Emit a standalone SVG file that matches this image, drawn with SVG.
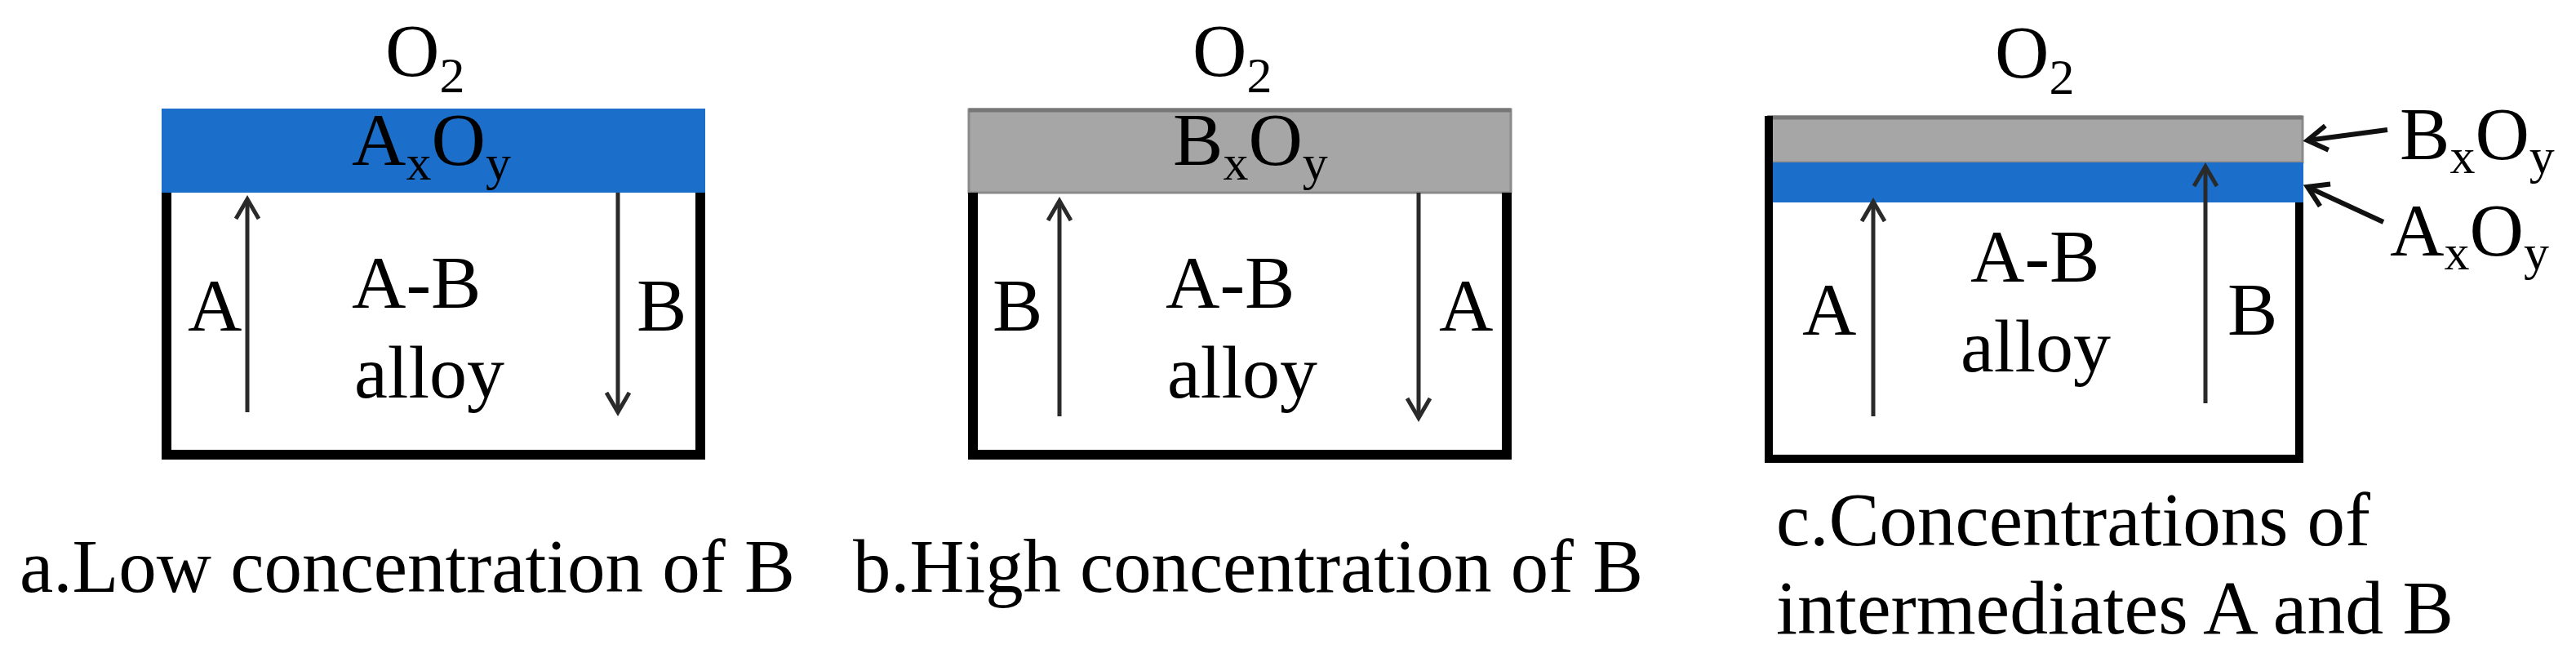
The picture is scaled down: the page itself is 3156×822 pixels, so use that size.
<svg xmlns="http://www.w3.org/2000/svg" width="3156" height="822" viewBox="0 0 3156 822" font-family="'Liberation Serif', 'Times New Roman', Tinos, 'DejaVu Serif', serif">
  <style>
    text { font-family: "Liberation Serif", "Times New Roman", Tinos, "DejaVu Serif", serif; font-size: 92px; fill: #000; }
    .sub { font-size: 62px; }
    .cap { font-size: 93px; }
    .box { fill: none; stroke: #000; stroke-width: 12; stroke-linejoin: miter; }
    .blue { fill: #1B6FCA; }
    .gray { fill: #A6A6A6; stroke: #8A8A8A; stroke-width: 3; }
    .edge { stroke: #777; stroke-width: 5; }
    .arr { fill: none; stroke: #2A2A2A; stroke-width: 5; marker-end: url(#chev); }
    .ptr { fill: none; stroke: #111; stroke-width: 6; marker-end: url(#chev2); }
  </style>
  <defs>
    <marker id="chev" markerUnits="userSpaceOnUse" viewBox="-30 -20 40 40" markerWidth="40" markerHeight="40" refX="0" refY="0" orient="auto">
      <path d="M-24,-14 L0,0 L-24,14" fill="none" stroke="#2A2A2A" stroke-width="5"/>
    </marker>
    <marker id="chev2" markerUnits="userSpaceOnUse" viewBox="-30 -20 40 40" markerWidth="40" markerHeight="40" refX="0" refY="0" orient="auto">
      <path d="M-24,-15 L0,0 L-24,15" fill="none" stroke="#111" stroke-width="6"/>
    </marker>
  </defs>
  <rect width="3156" height="822" fill="#fff"/>

  <!-- Panel a -->
  <g id="panel-a">
    <rect class="blue" x="198" y="133" width="666" height="103"/>
    <path class="box" d="M204,236 V557 H858 V236"/>
    <text x="472" y="93">O<tspan class="sub" dy="20">2</tspan></text>
    <text x="431" y="202">A<tspan class="sub" dy="18">x</tspan><tspan dy="-18">O</tspan><tspan class="sub" dy="18">y</tspan></text>
    <text x="431" y="377">A-B</text>
    <text x="434" y="487">alloy</text>
    <text x="230" y="405">A</text>
    <text x="780" y="405">B</text>
  </g>

  <!-- Panel b -->
  <g id="panel-b">
    <rect class="gray" x="1187" y="134" width="664" height="102"/>
    <line class="edge" x1="1187" y1="135" x2="1851" y2="135"/>
    <path class="box" d="M1192,236 V557 H1846 V236"/>
    <text x="1461" y="93">O<tspan class="sub" dy="20">2</tspan></text>
    <text x="1437" y="202">B<tspan class="sub" dy="18">x</tspan><tspan dy="-18">O</tspan><tspan class="sub" dy="18">y</tspan></text>
    <text x="1428" y="377">A-B</text>
    <text x="1430" y="487">alloy</text>
    <text x="1216" y="405">B</text>
    <text x="1763" y="405">A</text>
  </g>

  <!-- Panel c -->
  <g id="panel-c">
    <rect class="gray" x="2167" y="143" width="654" height="56"/>
    <line class="edge" x1="2165" y1="144" x2="2821" y2="144"/>
    <rect class="blue" x="2167" y="199" width="655" height="49"/>
    <path class="box" d="M2167,142 V562 H2817 V248" style="stroke-width:10"/>
    <text x="2444" y="95">O<tspan class="sub" dy="20">2</tspan></text>
    <text x="2414" y="345">A-B</text>
    <text x="2402" y="455">alloy</text>
    <text x="2208" y="410">A</text>
    <text x="2729" y="410">B</text>
    <text x="2940" y="195">B<tspan class="sub" dy="17">x</tspan><tspan dy="-17">O</tspan><tspan class="sub" dy="17">y</tspan></text>
    <text x="2928" y="313">A<tspan class="sub" dy="17">x</tspan><tspan dy="-17">O</tspan><tspan class="sub" dy="17">y</tspan></text>
  </g>

  <!-- Connectors -->
  <g id="connectors">
    <line class="arr" x1="303" y1="505" x2="303" y2="244"/>
    <line class="arr" x1="757" y1="236" x2="757" y2="505"/>
    <line class="arr" x1="1298" y1="510" x2="1298" y2="246"/>
    <line class="arr" x1="1738" y1="236" x2="1738" y2="512"/>
    <line class="arr" x1="2295" y1="510" x2="2295" y2="247"/>
    <line class="arr" x1="2702" y1="494" x2="2702" y2="204"/>
    <line class="ptr" x1="2925" y1="159" x2="2827" y2="172"/>
    <line class="ptr" x1="2920" y1="272" x2="2827" y2="229"/>
  </g>

  <!-- Captions -->
  <g id="captions">
    <text class="cap" x="24" y="725" textLength="950" lengthAdjust="spacingAndGlyphs">a.Low concentration of B</text>
    <text class="cap" x="1045" y="725" textLength="968" lengthAdjust="spacingAndGlyphs">b.High concentration of B</text>
    <text class="cap" x="2176" y="668" textLength="728" lengthAdjust="spacingAndGlyphs">c.Concentrations of</text>
    <text class="cap" x="2176" y="776" textLength="830" lengthAdjust="spacingAndGlyphs">intermediates A and B</text>
  </g>
</svg>
